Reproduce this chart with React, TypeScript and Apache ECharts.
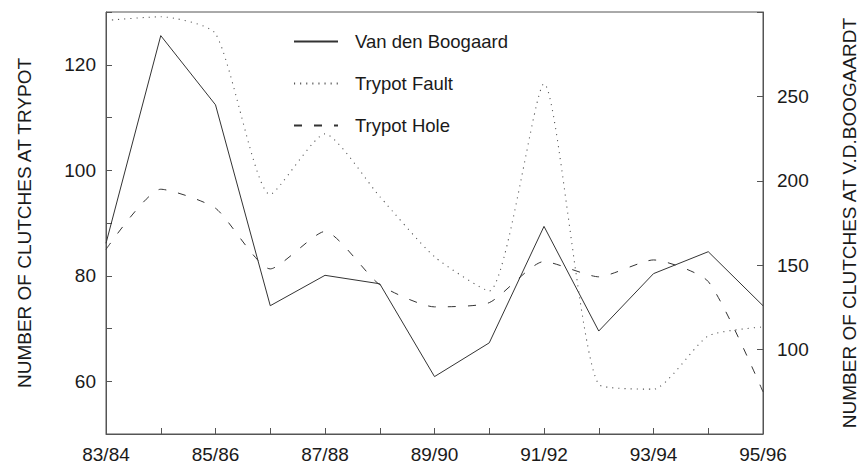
import React, { useEffect, useRef } from "react";
import * as echarts from "echarts";

const seasons = ["83/84", "84/85", "85/86", "86/87", "87/88", "88/89", "89/90", "90/91", "91/92", "92/93", "93/94", "94/95", "95/96"];
const vanDenBoogaard = [163, 286, 245, 126, 144, 139, 84, 104, 173, 111, 145, 158, 126];
const trypotFault = [128.4, 129.1, 125.9, 95.4, 106.9, 95, 83.6, 77.1, 116.4, 59.4, 58.5, 68.6, 70.3];
const trypotHole = [85, 96.4, 92.8, 81.3, 88.4, 78.3, 74.1, 74.9, 82.7, 79.8, 83, 78.9, 58];
const leftTickLabels = [60, 80, 100, 120];
const rightTickLabels = [100, 150, 200, 250];

const FONT = "Liberation Sans, Arial, Helvetica, sans-serif";
const TEXT = "#1a1a1a";
const AXIS = "#555";
const LINE = "#333";

export default function App() {
  const ref = useRef<HTMLDivElement>(null);
  useEffect(() => {
    if (!ref.current) return;
    const chart = echarts.init(ref.current, undefined, { renderer: "svg" });
    chart.setOption({
      animation: false,
      backgroundColor: "#fff",
      textStyle: { fontFamily: FONT, color: TEXT },
      grid: {
        left: 106, right: 94, top: 12, bottom: 37,
        show: true, borderColor: AXIS, borderWidth: 1, backgroundColor: "transparent",
      },
      legend: {
        orient: "vertical",
        left: 288,
        top: 27,
        itemWidth: 44,
        itemHeight: 14,
        itemGap: 23,
        itemStyle: { opacity: 0, borderWidth: 0 },
        textStyle: { fontFamily: FONT, fontSize: 18.5, color: TEXT, padding: [0, 0, 0, 12] },
        data: ["Van den Boogaard", "Trypot Fault", "Trypot Hole"],
      },
      xAxis: {
        type: "category",
        data: seasons,
        boundaryGap: false,
        axisLine: { lineStyle: { color: AXIS, width: 1 } },
        axisTick: { inside: true, length: 6, interval: 0, lineStyle: { color: AXIS } },
        axisLabel: { interval: 1, margin: 11, fontSize: 19, color: TEXT, fontFamily: FONT },
        splitLine: { show: false },
      },
      yAxis: [
        {
          type: "value",
          min: 50, max: 130, interval: 10,
          position: "left",
          name: "NUMBER OF CLUTCHES AT TRYPOT",
          nameLocation: "middle",
          nameGap: 72,
          nameTextStyle: { fontSize: 19, color: TEXT, fontFamily: FONT },
          axisLine: { show: true, lineStyle: { color: AXIS } },
          axisTick: { show: true, inside: true, length: 6, lineStyle: { color: AXIS } },
          axisLabel: {
            margin: 10, fontSize: 19, color: TEXT, fontFamily: FONT,
            formatter: (v: number) => (leftTickLabels.includes(v) ? String(v) : ""),
          },
          splitLine: { show: false },
        },
        {
          type: "value",
          min: 50, max: 300, interval: 50,
          position: "right",
          name: "NUMBER OF CLUTCHES AT V.D.BOOGAARDT",
          nameLocation: "middle",
          nameGap: 77,
          nameRotate: 90,
          nameTextStyle: { fontSize: 19, color: TEXT, fontFamily: FONT },
          axisLine: { show: true, lineStyle: { color: AXIS } },
          axisTick: { show: true, inside: true, length: 6, lineStyle: { color: AXIS } },
          axisLabel: {
            margin: 14, fontSize: 19, color: TEXT, fontFamily: FONT,
            formatter: (v: number) => (rightTickLabels.includes(v) ? String(v) : ""),
          },
          splitLine: { show: false },
        },
      ],
      series: [
        {
          name: "Van den Boogaard",
          type: "line",
          yAxisIndex: 1,
          data: vanDenBoogaard,
          symbol: "none",
          lineStyle: { color: LINE, width: 1, type: "solid" },
          itemStyle: { color: LINE },
        },
        {
          name: "Trypot Fault",
          type: "line",
          yAxisIndex: 0,
          data: trypotFault,
          symbol: "none",
          smooth: 0.2,
          lineStyle: { color: "#555", width: 1.1, type: [1.1, 5] },
          itemStyle: { color: "#555" },
        },
        {
          name: "Trypot Hole",
          type: "line",
          yAxisIndex: 0,
          data: trypotHole,
          symbol: "none",
          smooth: 0.2,
          lineStyle: { color: LINE, width: 1, type: [8, 12] },
          itemStyle: { color: LINE },
        },
      ],
    });
    return () => chart.dispose();
  }, []);
  return (
    <div
      ref={ref}
      style={{ position: "fixed", left: 0, top: 0, width: 867, height: 471, background: "#fff" }}
    />
  );
}
